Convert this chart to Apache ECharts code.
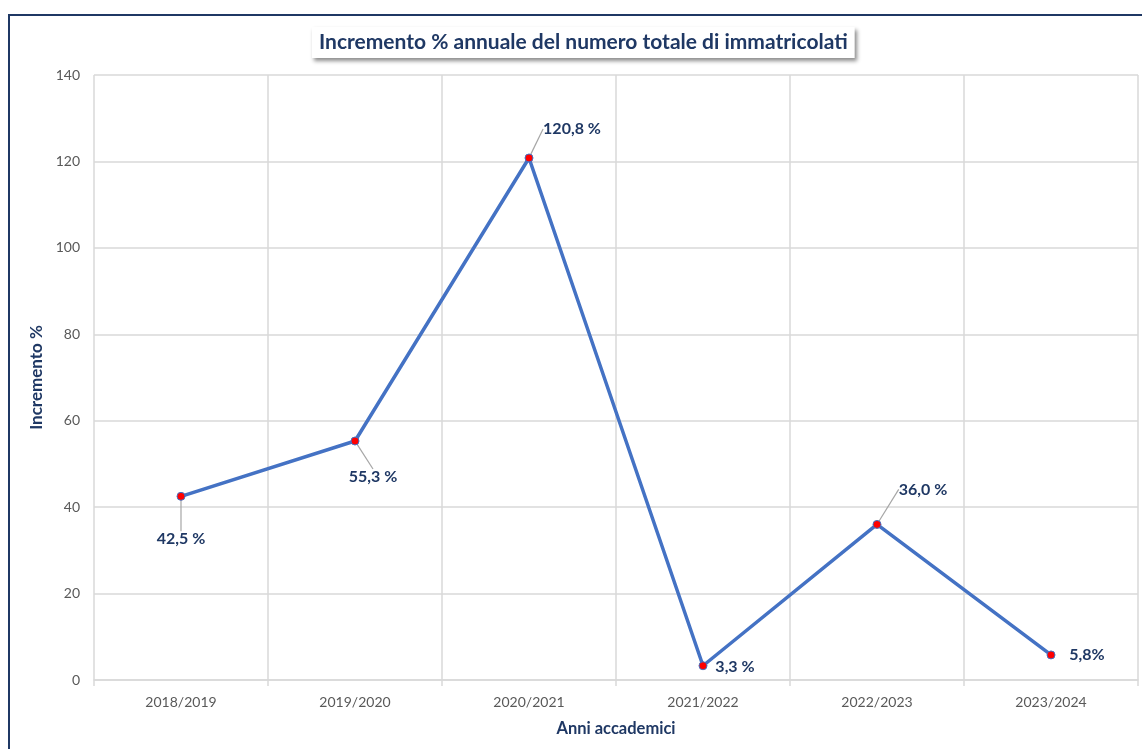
<!DOCTYPE html>
<html><head><meta charset="utf-8">
<script src="https://cdn.jsdelivr.net/npm/echarts@6/dist/echarts.min.js"></script>
<style>html,body{margin:0;padding:0;background:#fff}#c{width:1142px;height:749px}</style>
</head><body><div id="c"></div>
<script>
const categories = ["2018/2019","2019/2020","2020/2021","2021/2022","2022/2023","2023/2024"];
const increments = [42.5, 55.3, 120.8, 3.3, 36.0, 5.8];
const valueLabels = ["42,5 %","55,3 %","120,8 %","3,3 %","36,0 %","5,8%"];
const yTicks = [0,20,40,60,80,100,120,140];

const FONT = "Lato, 'Open Sans', sans-serif";
const NAVY = "#1F3864";
// label placement per point (dx, dy relative to point, leader line shown)
const placement = [
  {dx: 0, dy: 43, line: true},
  {dx: 18, dy: 36, line: true},
  {dx: 43, dy: -29, line: true},
  {dx: 32, dy: 1, line: false},
  {dx: 46, dy: -35, line: true},
  {dx: 36, dy: 0, line: false}
];

const seriesData = increments.map((v, i) => ({
  value: v,
  labelLine: {show: placement[i].line}
}));

const chart = echarts.init(document.getElementById('c'));
chart.setOption({
  animation: false,
  backgroundColor: '#fff',
  title: {
    text: 'Incremento % annuale del numero totale di immatricolati',
    left: 312, top: 27,
    padding: [5, 7, 5, 7],
    backgroundColor: '#fff',
    shadowBlur: 4, shadowColor: 'rgba(0,0,0,0.45)', shadowOffsetX: 2, shadowOffsetY: 3,
    textStyle: {fontFamily: FONT, fontWeight: 'bold', fontSize: 21, color: NAVY}
  },
  graphic: [{
    type: 'rect', z: -1,
    shape: {x: 9, y: 15, width: 1300, height: 900},
    style: {fill: 'none', stroke: NAVY, lineWidth: 2}
  }],
  grid: {left: 94, right: 4, top: 75, bottom: 69},
  xAxis: {
    type: 'category', data: categories, boundaryGap: true,
    name: 'Anni accademici', nameLocation: 'middle', nameGap: 40,
    nameTextStyle: {fontFamily: FONT, fontWeight: 'bold', fontSize: 16.5, color: NAVY},
    axisLine: {lineStyle: {color: '#D9D9D9', width: 1.5}},
    axisTick: {show: true, length: 6, lineStyle: {color: '#D9D9D9', width: 1.5}},
    axisLabel: {fontFamily: FONT, fontSize: 14, color: '#595959', margin: 15},
    splitLine: {show: true, lineStyle: {color: '#D9D9D9', width: 1.5}}
  },
  yAxis: {
    type: 'value', min: yTicks[0], max: yTicks[yTicks.length-1], interval: 20,
    name: 'Incremento %', nameLocation: 'middle', nameGap: 39, nameRotate: 90,
    nameTextStyle: {fontFamily: FONT, fontWeight: 'bold', fontSize: 17, color: NAVY},
    axisLine: {show: false}, axisTick: {show: false},
    axisLabel: {fontFamily: FONT, fontSize: 14, color: '#595959', margin: 14},
    splitLine: {show: true, lineStyle: {color: '#D9D9D9', width: 1.5}}
  },
  series: [{
    type: 'line',
    data: seriesData,
    lineStyle: {color: '#4472C4', width: 3.5},
    symbol: 'circle', symbolSize: 8,
    itemStyle: {color: '#FF0000', borderColor: '#4472C4', borderWidth: 1},
    label: {
      show: true, position: 'inside',
      formatter: p => valueLabels[p.dataIndex],
      fontFamily: FONT, fontWeight: 'bold', fontSize: 16, color: NAVY
    },
    labelLayout: p => {
      const pl = placement[p.dataIndex];
      return {dx: pl.dx, dy: pl.dy};
    },
    labelLine: {show: true, lineStyle: {color: '#A6A6A6', width: 1.2}, length2: 0}
  }]
});
</script>
</body></html>
